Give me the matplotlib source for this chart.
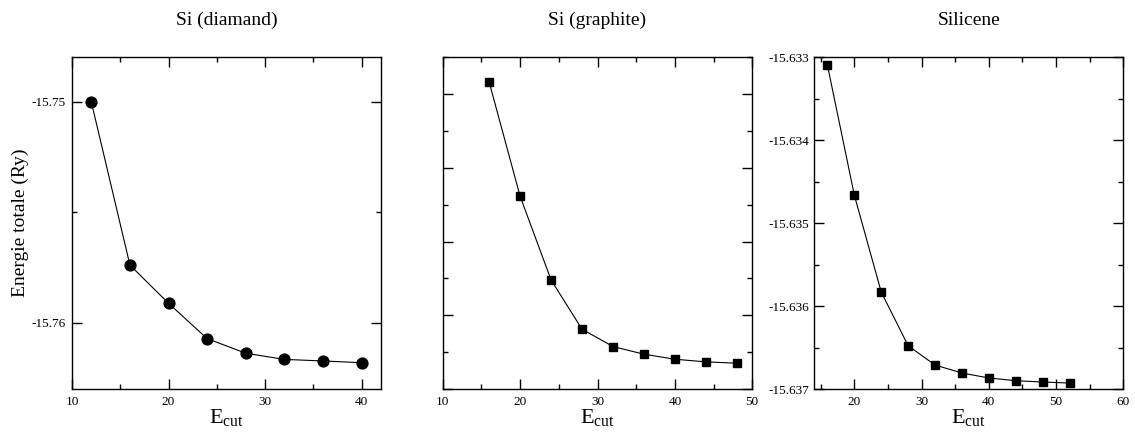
import matplotlib
matplotlib.use('Agg')
import matplotlib.pyplot as plt
from matplotlib.ticker import MultipleLocator

plt.rcParams['font.family'] = ['Liberation Serif', 'DejaVu Serif']
plt.rcParams['mathtext.fontset'] = 'custom'
plt.rcParams['mathtext.rm'] = 'Liberation Serif'
plt.rcParams['mathtext.it'] = 'Liberation Serif:italic'

# Si (diamand)
ecut_diam = [12, 16, 20, 24, 28, 32, 36, 40]
e_diam = [-15.75000, -15.75739, -15.75912, -15.76072, -15.76138, -15.76166, -15.76173, -15.76181]

# Si (graphite) -- no y labels in the original, scale is arbitrary
ecut_graph = [16, 20, 24, 28, 32, 36, 40, 44, 48]
e_graph = [-15.739669, -15.742770, -15.745040, -15.746378, -15.746848,
           -15.747056, -15.747192, -15.747264, -15.747300]

# Silicene
ecut_sil = [16, 20, 24, 28, 32, 36, 40, 44, 48, 52]
e_sil = [-15.633096, -15.634663, -15.635831, -15.636478, -15.636711,
         -15.636807, -15.636867, -15.636900, -15.636916, -15.636928]

fig = plt.figure(figsize=(11.35, 4.34), dpi=100)
W, H = 1135.0, 434.0
bottom = (H - 389) / H
height = (389 - 57.3) / H
ax1 = fig.add_axes([72 / W, bottom, 309 / W, height])
ax2 = fig.add_axes([442.7 / W, bottom, 309.6 / W, height])
ax3 = fig.add_axes([814 / W, bottom, 309.3 / W, height])


def style(ax, title):
    for s in ax.spines.values():
        s.set_linewidth(1.0)
    ax.tick_params(which='both', direction='in', top=True, right=True,
                   labelsize=9.5, width=1.0)
    ax.tick_params(which='major', length=7)
    ax.tick_params(which='minor', length=3.6)
    ax.tick_params(axis='x', pad=5)
    ax.tick_params(axis='y', pad=4.5)
    ax.set_title(title, fontsize=14, pad=23)
    ax.set_xlabel(r'$\mathrm{E}_{\mathrm{cut}}$', fontsize=16)
    ax.xaxis.set_label_coords(0.5, -0.054)


ax1.plot(ecut_diam, e_diam, color='black', lw=0.8, marker='o', ms=7.8)
ax1.set_xlim(10, 42)
ax1.set_ylim(-15.763, -15.74798)
ax1.xaxis.set_major_locator(MultipleLocator(10))
ax1.xaxis.set_minor_locator(MultipleLocator(5))
ax1.yaxis.set_major_locator(MultipleLocator(0.01))
ax1.yaxis.set_minor_locator(MultipleLocator(0.005))
ax1.yaxis.set_major_formatter(lambda v, p: f'{v:.2f}')
style(ax1, 'Si (diamand)')
ax1.set_ylabel('Energie totale (Ry)', fontsize=14)
ax1.yaxis.set_label_coords((29 - 72) / 309.0, 0.5)

ax2.plot(ecut_graph, e_graph, color='black', lw=0.8, marker='s', ms=6.3)
ax2.set_xlim(10, 50)
ax2.set_ylim(-15.748, -15.739)
ax2.xaxis.set_major_locator(MultipleLocator(10))
ax2.xaxis.set_minor_locator(MultipleLocator(5))
ax2.yaxis.set_major_locator(MultipleLocator(0.002))
ax2.yaxis.set_minor_locator(MultipleLocator(0.001))
style(ax2, 'Si (graphite)')
ax2.tick_params(axis='y', labelleft=False)

ax3.plot(ecut_sil, e_sil, color='black', lw=0.8, marker='s', ms=6.3)
ax3.set_xlim(14, 60)
ax3.set_ylim(-15.637, -15.633)
ax3.xaxis.set_major_locator(MultipleLocator(10))
ax3.xaxis.set_minor_locator(MultipleLocator(5))
ax3.yaxis.set_major_locator(MultipleLocator(0.001))
ax3.yaxis.set_minor_locator(MultipleLocator(0.0005))
ax3.yaxis.set_major_formatter(lambda v, p: f'{v:.3f}')
style(ax3, 'Silicene')
ax3.tick_params(axis='y', pad=3.5)

fig.savefig('out.png', dpi=100)
